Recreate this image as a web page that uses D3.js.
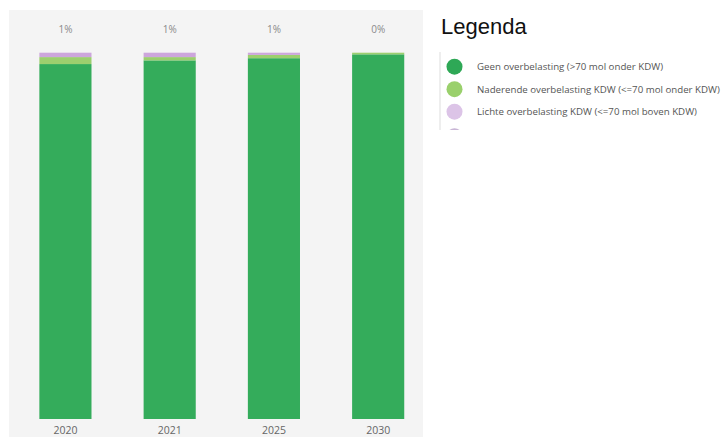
<!DOCTYPE html>
<html>
<head>
<meta charset="utf-8">
<script src="https://cdn.jsdelivr.net/npm/d3@7"></script>
<style>
  html, body { margin: 0; padding: 0; background: #ffffff; }
  svg { display: block; }
</style>
</head>
<body>
<svg id="chart" width="726" height="437"></svg>
<script>
// Jaren op de x-as
const categories = ["2020", "2021", "2025", "2030"];
// Aandeel per klasse (procent), van onder naar boven gestapeld
const geen = [96.9, 97.9, 98.5, 99.55];
const naderend = [1.9, 0.9, 0.9, 0.45];
const licht = [1.2, 1.2, 0.6, 0.0];
// Labels boven de staven (aandeel lichte overbelasting, afgerond)
const topLabels = ["1%", "1%", "1%", "0%"];

const seriesNames = [
  "Geen overbelasting (>70 mol onder KDW)",
  "Naderende overbelasting KDW (<=70 mol onder KDW)",
  "Lichte overbelasting KDW (<=70 mol boven KDW)"
];
const barColors = ["#34ac5b", "#9ccf6e", "#cda6dc"];
const legendColors = ["#2ea856", "#9ad06c", "#dcc4e7", "#c9b6d6"];

const svg = d3.select("#chart");

// plot background
svg.append("rect")
  .attr("x", 9).attr("y", 10)
  .attr("width", 414).attr("height", 427)
  .attr("fill", "#f4f4f4");

const x = d3.scaleBand()
  .domain(categories)
  .range([13.3, 430.3])
  .paddingInner(0.5)
  .paddingOuter(0.25);

const y = d3.scaleLinear().domain([0, 100]).range([419, 52.7]);

const rows = categories.map((c, i) => ({ year: c, geen: geen[i], naderend: naderend[i], licht: licht[i] }));
const keys = ["geen", "naderend", "licht"];
const stacked = d3.stack().keys(keys)(rows);

svg.append("g").selectAll("g")
  .data(stacked)
  .join("g")
  .attr("fill", (d, i) => barColors[i])
  .selectAll("rect")
  .data(d => d)
  .join("rect")
  .attr("x", d => x(d.data.year))
  .attr("width", x.bandwidth())
  .attr("y", d => y(d[1]))
  .attr("height", d => Math.max(0, y(d[0]) - y(d[1])));

// value labels above bars
svg.append("g").selectAll("text")
  .data(categories)
  .join("text")
  .attr("x", d => x(d) + x.bandwidth() / 2)
  .attr("y", 33)
  .attr("text-anchor", "middle")
  .attr("font-family", "'Open Sans', sans-serif")
  .attr("font-size", 10)
  .attr("fill", "#8a8a8a")
  .text((d, i) => topLabels[i]);

// x axis labels
const xAxis = d3.axisBottom(x).tickSize(0).tickPadding(7.5);
const gx = svg.append("g").attr("transform", "translate(0,419)").call(xAxis);
gx.select(".domain").remove();
gx.selectAll("text")
  .attr("font-family", "'Open Sans', sans-serif")
  .attr("font-size", 10.5)
  .attr("fill", "#666");

// legend
svg.append("text")
  .attr("x", 441).attr("y", 34)
  .attr("font-family", "'Liberation Sans', Arial, sans-serif")
  .attr("font-size", 22)
  .attr("fill", "#111")
  .text("Legenda");

svg.append("defs").append("clipPath").attr("id", "legclip")
  .append("rect").attr("x", 436).attr("y", 48).attr("width", 290).attr("height", 82);

const leg = svg.append("g").attr("clip-path", "url(#legclip)");
leg.append("line")
  .attr("x1", 440).attr("x2", 440).attr("y1", 52).attr("y2", 131)
  .attr("stroke", "#dddddd").attr("stroke-width", 1);

const rowY = i => 66.7 + i * 22.5;
leg.selectAll("circle")
  .data(legendColors)
  .join("circle")
  .attr("cx", 454.5)
  .attr("cy", (d, i) => rowY(i) + (i === 3 ? 2 : 0))
  .attr("r", 8)
  .attr("fill", d => d);

leg.selectAll("text")
  .data(seriesNames)
  .join("text")
  .attr("x", 477)
  .attr("y", (d, i) => rowY(i) + 3.5)
  .attr("font-family", "'Open Sans', sans-serif")
  .attr("font-size", 9.7)
  .attr("fill", "#555")
  .text(d => d);
</script>
</body>
</html>
